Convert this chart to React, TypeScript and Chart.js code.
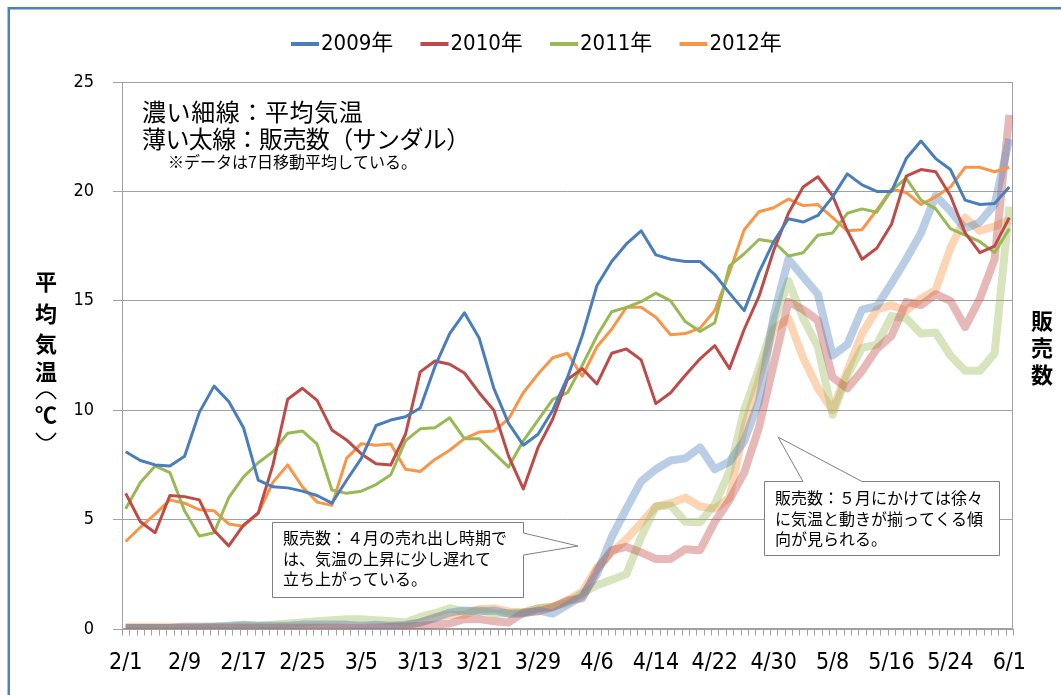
import React, { useEffect, useRef } from "react";
import { Chart, registerables } from "chart.js";

Chart.register(...registerables);

// ---- Data (sampled every 2 days from 2/1 to 6/1) ----
const tickLabels = ["2/1", "2/9", "2/17", "2/25", "3/5", "3/13", "3/21", "3/29", "4/6", "4/14", "4/22", "4/30", "5/8", "5/16", "5/24", "6/1"];
const SAMPLE_STEP = 2; // days between samples
const TICK_STEP = 8; // days between tick labels

const seriesNames = ["2009年", "2010年", "2011年", "2012年"];

// Mean temperature (7-day moving average), °C
const temp2009 = [8.1, 7.7, 7.5, 7.45, 7.9, 9.9, 11.1, 10.4, 9.2, 6.8,
  6.5, 6.45, 6.3, 6.1, 5.75, 6.8, 7.8, 9.3, 9.55, 9.7,
  10.1, 12.0, 13.5, 14.45, 13.3, 11.0, 9.4, 8.4, 8.9, 10.0,
  11.5, 13.4, 15.7, 16.8, 17.6, 18.2, 17.1, 16.9, 16.8, 16.8,
  16.2, 15.35, 14.55, 16.3, 17.7, 18.75, 18.6, 18.9, 19.75, 20.8,
  20.3, 20.0, 20.0, 21.5, 22.3, 21.5, 21.0, 19.6, 19.4, 19.45,
  20.2];
const temp2010 = [6.2, 4.9, 4.4, 6.1, 6.05, 5.9, 4.5, 3.8, 4.75, 5.3,
  7.5, 10.5, 11.0, 10.45, 9.1, 8.64, 8.0, 7.55, 7.5, 8.9,
  11.75, 12.25, 12.1, 11.7, 10.8, 10.0, 7.9, 6.4, 8.3, 9.6,
  11.4, 11.9, 11.2, 12.6, 12.8, 12.3, 10.3, 10.8, 11.6, 12.35,
  12.95, 11.9, 13.7, 15.2, 17.3, 19.0, 20.2, 20.67, 19.8, 18.2,
  16.9, 17.4, 18.5, 20.7, 21.0, 20.9, 19.8, 18.1, 17.2, 17.5,
  18.8];
const temp2011 = [5.5, 6.7, 7.45, 7.15, 5.4, 4.25, 4.4, 6.0, 6.95, 7.6,
  8.1, 8.95, 9.05, 8.45, 6.35, 6.2, 6.3, 6.6, 7.05, 8.6,
  9.15, 9.2, 9.65, 8.7, 8.7, 8.05, 7.4, 8.6, 9.55, 10.5,
  10.8, 12.05, 13.4, 14.5, 14.7, 14.96, 15.35, 15.0, 14.05, 13.6,
  14.0, 16.6, 17.15, 17.8, 17.7, 17.05, 17.2, 18.0, 18.1, 19.0,
  19.2, 19.05, 20.05, 20.6, 19.6, 19.2, 18.3, 18.0, 17.7, 17.2,
  18.3];
const temp2012 = [4.0, 4.65, 5.25, 5.9, 5.75, 5.45, 5.4, 4.8, 4.7, 5.3,
  6.7, 7.5, 6.5, 5.8, 5.65, 7.8, 8.47, 8.4, 8.45, 7.3,
  7.2, 7.75, 8.17, 8.7, 9.0, 9.05, 9.6, 10.8, 11.65, 12.4,
  12.6, 11.55, 12.9, 13.7, 14.7, 14.7, 14.25, 13.45, 13.5, 13.75,
  14.55, 16.3, 18.25, 19.07, 19.25, 19.65, 19.35, 19.4, 18.8, 18.2,
  18.25, 19.15, 20.1, 19.95, 19.4, 19.75, 20.2, 21.1, 21.1, 20.9,
  21.1];

// Sandal sales (7-day moving average), drawn on an unlabeled secondary axis
const sales2009 = [0.05, 0.05, 0.05, 0.05, 0.1, 0.1, 0.1, 0.15, 0.2, 0.15,
  0.15, 0.15, 0.2, 0.2, 0.2, 0.2, 0.15, 0.2, 0.15, 0.2,
  0.3, 0.5, 0.75, 0.85, 0.8, 0.85, 0.7, 0.7, 0.85, 0.7,
  1.1, 1.5, 2.5, 4.2, 5.5, 6.75, 7.3, 7.7, 7.8, 8.3,
  7.3, 7.65, 8.6, 10.4, 14.3, 16.9, 16.1, 15.3, 12.5, 13.0,
  14.6, 14.75, 15.8, 16.9, 18.1, 19.8, 19.1, 18.3, 18.6, 19.4,
  22.4];
const sales2010 = [0.05, 0.05, 0.05, 0.05, 0.05, 0.05, 0.05, 0.05, 0.05, 0.05,
  0.05, 0.05, 0.05, 0.05, 0.05, 0.05, 0.05, 0.05, 0.1, 0.1,
  0.15, 0.2, 0.25, 0.45, 0.45, 0.35, 0.3, 0.75, 0.8, 1.0,
  1.3, 1.4, 2.7, 3.6, 3.75, 3.5, 3.2, 3.2, 3.65, 3.6,
  4.9, 5.9, 7.15, 9.2, 12.1, 14.95, 14.6, 14.1, 11.5, 11.0,
  11.8, 12.8, 13.4, 14.95, 14.8, 15.3, 15.0, 13.8, 15.1, 16.9,
  23.5];
const sales2011 = [0.05, 0.05, 0.05, 0.05, 0.05, 0.05, 0.1, 0.1, 0.15, 0.15,
  0.2, 0.25, 0.3, 0.35, 0.4, 0.45, 0.45, 0.4, 0.35, 0.3,
  0.55, 0.72, 0.95, 0.8, 0.87, 0.7, 0.72, 0.75, 0.95, 1.02,
  1.2, 1.63, 2.0, 2.25, 2.5, 4.2, 5.6, 5.65, 4.9, 4.88,
  5.7, 7.2, 10.0, 11.9, 14.0, 15.9, 14.2, 12.9, 9.8, 11.6,
  12.85, 13.0, 14.3, 14.2, 13.5, 13.55, 12.5, 11.8, 11.8, 12.6,
  19.3];
const sales2012 = [0.1, 0.1, 0.1, 0.1, 0.1, 0.1, 0.1, 0.1, 0.1, 0.1,
  0.1, 0.1, 0.1, 0.1, 0.1, 0.1, 0.1, 0.1, 0.1, 0.15,
  0.3, 0.55, 0.65, 0.65, 0.9, 0.95, 0.8, 0.75, 0.95, 1.0,
  1.3, 1.7, 2.8, 3.5, 4.1, 4.85, 5.6, 5.75, 6.0, 5.6,
  5.5, 6.0, 9.2, 11.4, 13.7, 14.2, 12.4, 11.0, 10.0, 11.8,
  13.5, 14.6, 14.8, 14.55, 15.1, 15.5, 17.4, 18.8, 18.2, 18.4,
  18.7];

const tempSeries = [temp2009, temp2010, temp2011, temp2012];
const salesSeries = [sales2009, sales2010, sales2011, sales2012];

// ---- Styles ----
const tempColors = ["#4A7EBB", "#BE4B48", "#98B954", "#F79646"];
const salesColors = [
  "rgba(79,129,189,0.4)",
  "rgba(192,80,77,0.4)",
  "rgba(155,187,89,0.4)",
  "rgba(247,150,70,0.4)",
];
const GRID = "#A0A0A0";
const NUM_FONT = '"DejaVu Sans Condensed", "Liberation Sans Narrow", "Noto Sans CJK JP", sans-serif';
const JP_FONT = '"Noto Sans CJK JP", sans-serif';

const lastDay = (temp2009.length - 1) * SAMPLE_STEP;
const toPoints = (vals: number[]) => vals.map((v, i) => ({ x: i * SAMPLE_STEP, y: v }));

function drawCallout(ctx: CanvasRenderingContext2D, pts: number[][], lines: string[], tx: number, ty: number[]) {
  ctx.beginPath();
  pts.forEach(([x, y], i) => (i === 0 ? ctx.moveTo(x, y) : ctx.lineTo(x, y)));
  ctx.closePath();
  ctx.fillStyle = "#ffffff";
  ctx.fill();
  ctx.strokeStyle = "#7F7F7F";
  ctx.lineWidth = 1;
  ctx.stroke();
  ctx.fillStyle = "#000";
  ctx.font = `16px ${JP_FONT}`;
  ctx.textAlign = "left";
  ctx.textBaseline = "middle";
  lines.forEach((l, i) => ctx.fillText(l, tx, ty[i]));
}

const decor = {
  id: "decor",
  beforeDraw(chart: any) {
    const { ctx, width, height } = chart;
    ctx.save();
    ctx.fillStyle = "#ffffff";
    ctx.fillRect(0, 0, width, height);
    ctx.strokeStyle = "#4F81BD";
    ctx.lineWidth = 2.5;
    ctx.beginPath();
    ctx.moveTo(8.75, height + 10);
    ctx.lineTo(8.75, 8.25);
    ctx.lineTo(width + 10, 8.25);
    ctx.stroke();
    ctx.restore();
  },
  beforeDatasetsDraw(chart: any) {
    const { ctx, chartArea: a, scales } = chart;
    const L = Math.round(a.left) + 0.5;
    const R = Math.round(a.right) - 0.5;
    const T = Math.round(a.top) + 0.5;
    const B = Math.round(a.bottom) - 0.5;
    ctx.save();
    ctx.strokeStyle = GRID;
    ctx.lineWidth = 1;
    ctx.beginPath();
    ctx.moveTo(L, T);
    ctx.lineTo(R, T);
    ctx.lineTo(R, B);
    ctx.lineTo(L, B);
    ctx.closePath();
    ctx.stroke();
    // daily tick marks between categories
    ctx.beginPath();
    for (let d = -0.5; d <= lastDay + 0.5; d += 1) {
      const x = Math.round(scales.x.getPixelForValue(d)) + 0.5;
      ctx.moveTo(x, B);
      ctx.lineTo(x, B + 7);
    }
    ctx.stroke();
    ctx.restore();
  },
  afterDatasetsDraw(chart: any) {
    const { ctx } = chart;
    ctx.save();
    ctx.fillStyle = "#000";
    ctx.textAlign = "left";
    ctx.textBaseline = "middle";
    ctx.font = `24px ${JP_FONT}`;
    (ctx as any).letterSpacing = "0.6px";
    ctx.fillText("濃い細線：平均気温", 142, 112);
    (ctx as any).letterSpacing = "-0.6px";
    ctx.fillText("薄い太線：販売数（サンダル）", 142, 139);
    (ctx as any).letterSpacing = "0px";
    ctx.font = `16px ${JP_FONT}`;
    ctx.fillText("※データは7日移動平均している。", 168, 162);

    drawCallout(
      ctx,
      [[272.5, 522.5], [523.5, 522.5], [523.5, 533], [578, 546], [523.5, 555], [523.5, 597.5], [272.5, 597.5]],
      ["販売数：４月の売れ出し時期で", "は、気温の上昇に少し遅れて", "立ち上がっている。"],
      283,
      [538, 558.5, 579]
    );
    drawCallout(
      ctx,
      [[764.5, 481.5], [803, 481.5], [778, 437], [862, 481.5], [999.5, 481.5], [999.5, 555.5], [764.5, 555.5]],
      ["販売数：５月にかけては徐々", "に気温と動きが揃ってくる傾", "向が見られる。"],
      775,
      [497.5, 519, 539]
    );
    ctx.restore();
  },
  afterDraw(chart: any) {
    const { ctx } = chart;
    ctx.save();
    // legend
    ctx.textAlign = "left";
    ctx.textBaseline = "middle";
    ctx.font = `22px ${NUM_FONT}`;
    seriesNames.forEach((name, i) => {
      const x0 = 291 + i * 129.5;
      ctx.strokeStyle = tempColors[i];
      ctx.lineWidth = 4;
      ctx.beginPath();
      ctx.moveTo(x0, 44);
      ctx.lineTo(x0 + 28, 44);
      ctx.stroke();
      ctx.fillStyle = "#000";
      ctx.fillText(name, x0 + 30, 44);
    });
    // vertical axis titles
    ctx.fillStyle = "#000";
    ctx.textAlign = "center";
    ctx.font = `bold 22px ${JP_FONT}`;
    const leftTitle: [string, number][] = [["平", 282], ["均", 314], ["気", 344], ["温", 372], ["℃", 415]];
    leftTitle.forEach(([c, y]) => ctx.fillText(c, 46, y));
    // vertical-form parentheses around ℃
    ctx.strokeStyle = "#000";
    ctx.lineWidth = 1.6;
    ctx.beginPath();
    ctx.moveTo(36, 399);
    ctx.quadraticCurveTo(46, 385, 56, 399);
    ctx.moveTo(36, 433);
    ctx.quadraticCurveTo(46, 447, 56, 433);
    ctx.stroke();
    const rightTitle: [string, number][] = [["販", 321], ["売", 348], ["数", 375]];
    rightTitle.forEach(([c, y]) => ctx.fillText(c, 1042, y));
    ctx.restore();
  },
};

export default function App() {
  const ref = useRef<HTMLCanvasElement>(null);
  useEffect(() => {
    if (!ref.current) return;
    const datasets: any[] = [];
    salesSeries.forEach((vals, i) => {
      datasets.push({
        label: "販売数 " + seriesNames[i],
        data: toPoints(vals),
        borderColor: salesColors[i],
        backgroundColor: salesColors[i],
        borderWidth: 8,
        yAxisID: "y2",
        order: 2,
      });
    });
    tempSeries.forEach((vals, i) => {
      datasets.push({
        label: seriesNames[i],
        data: toPoints(vals),
        borderColor: tempColors[i],
        backgroundColor: tempColors[i],
        borderWidth: 3,
        yAxisID: "y",
        order: 1,
      });
    });
    const chart = new Chart(ref.current, {
      type: "line",
      data: { datasets },
      options: {
        animation: false,
        responsive: true,
        maintainAspectRatio: false,
        events: [],
        layout: { padding: { left: 0, right: 48, top: 82, bottom: 0 } },
        plugins: { legend: { display: false }, tooltip: { enabled: false } },
        elements: {
          point: { radius: 0 },
          line: { tension: 0, borderJoinStyle: "round", fill: false },
        },
        scales: {
          x: {
            type: "linear",
            min: -0.5,
            max: lastDay + 0.5,
            afterBuildTicks: (s: any) => {
              s.ticks = tickLabels.map((_, i) => ({ value: i * TICK_STEP }));
            },
            afterFit: (s: any) => {
              s.height = 66;
            },
            grid: { display: false, drawTicks: false },
            border: { display: false },
            ticks: {
              autoSkip: false,
              maxRotation: 0,
              padding: 20,
              color: "#000",
              font: { family: NUM_FONT, size: 23 },
              callback: (v: any) => tickLabels[Math.round(Number(v) / TICK_STEP)] ?? "",
            },
          },
          y: {
            min: 0,
            max: 25,
            afterFit: (s: any) => {
              s.width = 122;
            },
            grid: { color: GRID, tickLength: 9, drawTicks: true },
            border: { display: false },
            ticks: { stepSize: 5, padding: 19, color: "#000", font: { family: NUM_FONT, size: 18 } },
          },
          y2: { display: false, min: 0, max: 25, position: "right" },
        },
      } as any,
      plugins: [decor],
    } as any);
    return () => chart.destroy();
  }, []);
  return (
    <div style={{ position: "fixed", left: 0, top: 0, width: 1061, height: 695, background: "#fff" }}>
      <canvas ref={ref} />
    </div>
  );
}
